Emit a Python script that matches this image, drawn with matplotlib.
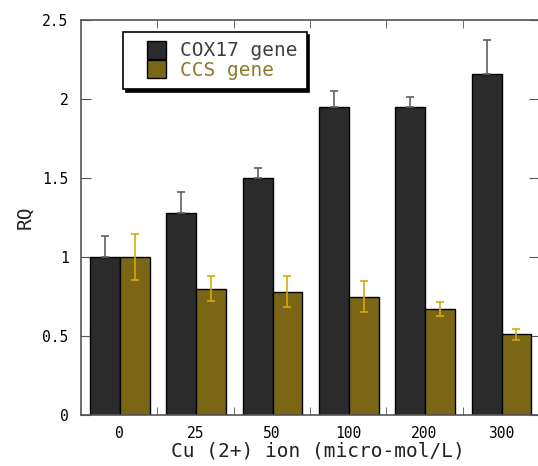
import matplotlib
matplotlib.use("Agg")
import matplotlib.pyplot as plt
from matplotlib.patches import Rectangle
from matplotlib.legend_handler import HandlerPatch
import numpy as np

categories = ["0", "25", "50", "100", "200", "300"]
cox17 = [1.00, 1.28, 1.50, 1.95, 1.95, 2.16]
cox17_err = [0.13, 0.13, 0.065, 0.10, 0.065, 0.215]
ccs = [1.00, 0.80, 0.78, 0.75, 0.67, 0.51]
ccs_err = [0.145, 0.08, 0.097, 0.097, 0.043, 0.036]
yticks = [0, 0.5, 1, 1.5, 2, 2.5]
ytick_labels = ["0", "0.5", "1", "1.5", "2", "2.5"]

mono = "DejaVu Sans Mono"
fig = plt.figure(figsize=(5.38, 4.66), dpi=100)
ax = fig.add_axes([81/538, 1-415/466, 458/538, 395/466])

x = np.arange(len(categories))
w = 0.39
c_cox = "#2b2b2b"
c_ccs = "#7a6614"
b1 = ax.bar(x - 0.185, cox17, w, color=c_cox, edgecolor="black", linewidth=1, label="COX17 gene", zorder=2)
b2 = ax.bar(x + 0.205, ccs, w, color=c_ccs, edgecolor="black", linewidth=1, label="CCS gene", zorder=2)
ax.errorbar(x - 0.185, cox17, yerr=[np.zeros(len(cox17)), cox17_err], fmt="none",
            ecolor="#606060", elinewidth=1.2, capsize=3, capthick=1.2, zorder=3)
ax.errorbar(x + 0.205, ccs, yerr=ccs_err, fmt="none",
            ecolor="#d4aa10", elinewidth=1.2, capsize=3, capthick=1.2, zorder=3)

ax.set_xlim(-0.5, 5.5)
ax.set_ylim(0, 2.5)
ax.set_xticks(x)
ax.set_xticklabels(categories, fontfamily=mono, fontsize=10.5)
ax.set_xticks(np.arange(0.5, 5.5, 1), minor=True)
ax.tick_params(axis="x", which="major", length=0, pad=8)
ax.tick_params(axis="x", which="minor", direction="in", top=True, bottom=True, length=6, color="#555555")
ax.set_yticks(yticks)
ax.set_yticklabels(ytick_labels, fontfamily=mono, fontsize=10.5)
ax.tick_params(axis="y", direction="in", left=True, right=True, length=7, color="#555555", pad=9)
for s in ax.spines.values():
    s.set_color("#555555")
    s.set_linewidth(1.2)

ax.set_xlabel("Cu (2+) ion (micro-mol/L)", fontfamily=mono, fontsize=14, color="#222222", labelpad=0)
ax.xaxis.label.set_x((318 - 81) / 458)
ax.set_ylabel("RQ", fontfamily=mono, fontsize=14, color="#222222", labelpad=6)


def small_patch(legend, orig_handle, xdescent, ydescent, width, height, fontsize):
    pw = 0.95 * fontsize
    return Rectangle((-xdescent + width - pw, -ydescent), pw, height)


leg = ax.legend(handles=[b1.patches[0], b2.patches[0]], labels=["COX17 gene", "CCS gene"],
                loc="upper left", bbox_to_anchor=(123/538, 1-32/466), bbox_transform=fig.transFigure,
                prop={"family": mono, "size": 14}, frameon=True, fancybox=False,
                shadow={"color": "black", "alpha": 1},
                edgecolor="black", framealpha=1, handlelength=1.75, handleheight=1.05, handletextpad=0.75,
                labelspacing=0.0, borderpad=0.45, borderaxespad=0,
                handler_map={Rectangle: HandlerPatch(patch_func=small_patch)})
leg.get_frame().set_linewidth(1.2)
leg.get_texts()[0].set_color("#404040")
leg.get_texts()[1].set_color("#8c7a30")

fig.savefig("out.png", dpi=100)
